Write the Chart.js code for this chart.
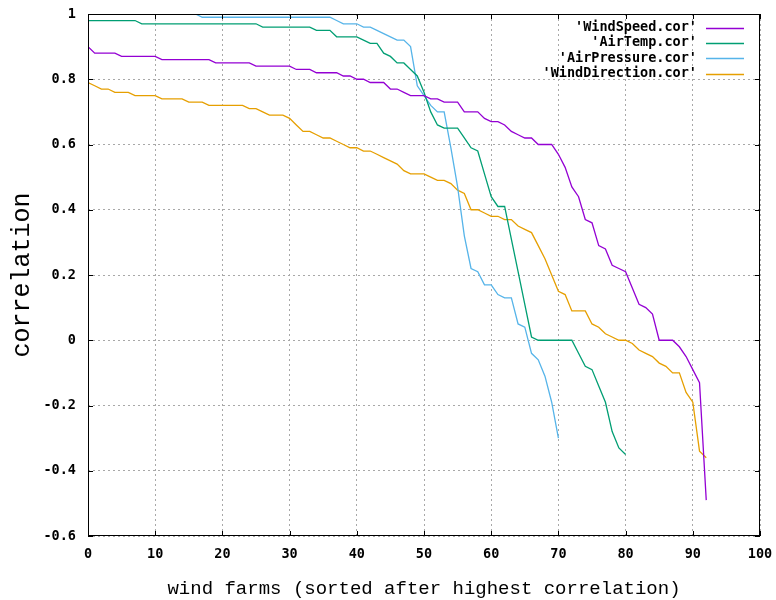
<!DOCTYPE html>
<html>
<head>
<meta charset="utf-8">
<script src="https://cdn.jsdelivr.net/npm/chart.js@4/dist/chart.umd.min.js"></script>
<style>
  html, body { margin: 0; padding: 0; background: #ffffff; }
  canvas { display: block; }
</style>
</head>
<body>
<canvas id="kt_chart" width="776" height="600"></canvas>
<script>
// Series values, one per wind farm (index 0, 1, 2, ...)
var windSpeed = [0.90, 0.88, 0.88, 0.88, 0.88, 0.87, 0.87, 0.87, 0.87, 0.87,
  0.87, 0.86, 0.86, 0.86, 0.86, 0.86, 0.86, 0.86, 0.86, 0.85,
  0.85, 0.85, 0.85, 0.85, 0.85, 0.84, 0.84, 0.84, 0.84, 0.84,
  0.84, 0.83, 0.83, 0.83, 0.82, 0.82, 0.82, 0.82, 0.81, 0.81,
  0.80, 0.80, 0.79, 0.79, 0.79, 0.77, 0.77, 0.76, 0.75, 0.75,
  0.75, 0.74, 0.74, 0.73, 0.73, 0.73, 0.70, 0.70, 0.70, 0.68,
  0.67, 0.67, 0.66, 0.64, 0.63, 0.62, 0.62, 0.60, 0.60, 0.60,
  0.57, 0.53, 0.47, 0.44, 0.37, 0.36, 0.29, 0.28, 0.23, 0.22,
  0.21, 0.16, 0.11, 0.10, 0.08, 0.00, 0.00, 0.00, -0.02, -0.05,
  -0.09, -0.13, -0.49];

var airTemp = [0.98, 0.98, 0.98, 0.98, 0.98, 0.98, 0.98, 0.98, 0.97, 0.97,
  0.97, 0.97, 0.97, 0.97, 0.97, 0.97, 0.97, 0.97, 0.97, 0.97,
  0.97, 0.97, 0.97, 0.97, 0.97, 0.97, 0.96, 0.96, 0.96, 0.96,
  0.96, 0.96, 0.96, 0.96, 0.95, 0.95, 0.95, 0.93, 0.93, 0.93,
  0.93, 0.92, 0.91, 0.91, 0.88, 0.87, 0.85, 0.85, 0.83, 0.81,
  0.76, 0.70, 0.66, 0.65, 0.65, 0.65, 0.62, 0.59, 0.58, 0.51,
  0.44, 0.41, 0.41, 0.31, 0.21, 0.11, 0.01, 0.00, 0.00, 0.00,
  0.00, 0.00, 0.00, -0.04, -0.08, -0.09, -0.14, -0.19, -0.28, -0.33,
  -0.35];

var airPressure = [1.00, 1.00, 1.00, 1.00, 1.00, 1.00, 1.00, 1.00, 1.00, 1.00,
  1.00, 1.00, 1.00, 1.00, 1.00, 1.00, 1.00, 0.99, 0.99, 0.99,
  0.99, 0.99, 0.99, 0.99, 0.99, 0.99, 0.99, 0.99, 0.99, 0.99,
  0.99, 0.99, 0.99, 0.99, 0.99, 0.99, 0.99, 0.98, 0.97, 0.97,
  0.97, 0.96, 0.96, 0.95, 0.94, 0.93, 0.92, 0.92, 0.90, 0.78,
  0.75, 0.72, 0.70, 0.70, 0.59, 0.47, 0.32, 0.22, 0.21, 0.17,
  0.17, 0.14, 0.13, 0.13, 0.05, 0.04, -0.04, -0.06, -0.11, -0.19,
  -0.30];

var windDirection = [0.79, 0.78, 0.77, 0.77, 0.76, 0.76, 0.76, 0.75, 0.75, 0.75,
  0.75, 0.74, 0.74, 0.74, 0.74, 0.73, 0.73, 0.73, 0.72, 0.72,
  0.72, 0.72, 0.72, 0.72, 0.71, 0.71, 0.70, 0.69, 0.69, 0.69,
  0.68, 0.66, 0.64, 0.64, 0.63, 0.62, 0.62, 0.61, 0.60, 0.59,
  0.59, 0.58, 0.58, 0.57, 0.56, 0.55, 0.54, 0.52, 0.51, 0.51,
  0.51, 0.50, 0.49, 0.49, 0.48, 0.46, 0.45, 0.40, 0.40, 0.39,
  0.38, 0.38, 0.37, 0.37, 0.35, 0.34, 0.33, 0.29, 0.25, 0.20,
  0.15, 0.14, 0.09, 0.09, 0.09, 0.05, 0.04, 0.02, 0.01, 0.00,
  0.00, -0.01, -0.03, -0.04, -0.05, -0.07, -0.08, -0.10, -0.10, -0.16,
  -0.19, -0.34, -0.36];

// Series names as shown in the key
var seriesNames = ["'WindSpeed.cor'", "'AirTemp.cor'", "'AirPressure.cor'", "'WindDirection.cor'"];

// Tick labels
var xTickValues = [0, 10, 20, 30, 40, 50, 60, 70, 80, 90, 100];
var yTickValues = [-0.6, -0.4, -0.2, 0, 0.2, 0.4, 0.6, 0.8, 1];
var yTickLabels = ['-0.6', '-0.4', '-0.2', '0', '0.2', '0.4', '0.6', '0.8', '1'];

// Axis titles
var xTitle = 'wind farms (sorted after highest correlation)';
var yTitle = 'correlation';

var KTCorrelationChart = function () {
  // Define colors (gnuplot defaults)
  var purpleColor = '#9400d3';
  var greenColor = '#009e73';
  var blueColor = '#56b4e9';
  var orangeColor = '#e69f00';
  var gridColor = '#a8a8a8';

  // Define fonts
  var tickFont = { family: "'DejaVu Sans Mono', monospace", size: 13.5, weight: 'bold' };
  var titleFont = { family: "'Liberation Mono', 'DejaVu Sans Mono', monospace", weight: 'normal' };

  function toPoints(values) {
    return values.map(function (v, i) { return { x: i, y: v }; });
  }

  function makeDataset(label, values, color) {
    return {
      label: label,
      data: toPoints(values),
      borderColor: color,
      backgroundColor: color,
      borderWidth: 1.3,
      pointRadius: 0,
      tension: 0,
      fill: false
    };
  }

  // Frame, mirrored inward ticks and the key, drawn like gnuplot does
  var framePlugin = {
    id: 'frame',
    afterDraw: function (chart) {
      var ctx = chart.ctx;
      var area = chart.chartArea;
      var xScale = chart.scales.x;
      var yScale = chart.scales.y;
      var tickLen = 5;

      ctx.save();
      ctx.strokeStyle = '#000000';
      ctx.lineWidth = 1;
      ctx.strokeRect(area.left + 0.5, area.top + 0.5, area.right - area.left - 1, area.bottom - area.top - 1);

      ctx.beginPath();
      xTickValues.forEach(function (v) {
        var px = Math.round(xScale.getPixelForValue(v)) + 0.5;
        ctx.moveTo(px, area.bottom);
        ctx.lineTo(px, area.bottom - tickLen);
        ctx.moveTo(px, area.top);
        ctx.lineTo(px, area.top + tickLen);
      });
      yTickValues.forEach(function (v) {
        var py = Math.round(yScale.getPixelForValue(v)) + 0.5;
        ctx.moveTo(area.left, py);
        ctx.lineTo(area.left + tickLen, py);
        ctx.moveTo(area.right, py);
        ctx.lineTo(area.right - tickLen, py);
      });
      ctx.stroke();

      // Key in the top right corner
      var textRight = area.right - 63;
      var lineStart = area.right - 54;
      var lineEnd = area.right - 16;
      var rowTop = area.top + 13.5;
      var rowStep = 15.4;
      ctx.font = 'bold 13.5px "DejaVu Sans Mono", monospace';
      ctx.textAlign = 'right';
      ctx.textBaseline = 'middle';
      chart.data.datasets.forEach(function (ds, i) {
        var y = rowTop + i * rowStep;
        ctx.fillStyle = '#000000';
        ctx.fillText(ds.label, textRight, y);
        ctx.beginPath();
        ctx.strokeStyle = ds.borderColor;
        ctx.lineWidth = 1.3;
        ctx.moveTo(lineStart, Math.round(y) + 0.5);
        ctx.lineTo(lineEnd, Math.round(y) + 0.5);
        ctx.stroke();
      });
      ctx.restore();
    }
  };

  var init = function () {
    // Define chart element
    var ctx = document.getElementById('kt_chart');

    // Chart data
    var data = {
      datasets: [
        makeDataset(seriesNames[0], windSpeed, purpleColor),
        makeDataset(seriesNames[1], airTemp, greenColor),
        makeDataset(seriesNames[2], airPressure, blueColor),
        makeDataset(seriesNames[3], windDirection, orangeColor)
      ]
    };

    // Chart config
    var config = {
      type: 'line',
      data: data,
      options: {
        responsive: false,
        animation: false,
        devicePixelRatio: 1,
        layout: {
          padding: { top: 14, right: 16, left: 0, bottom: 0 }
        },
        plugins: {
          legend: { display: false },
          title: { display: false },
          tooltip: { enabled: false }
        },
        scales: {
          x: {
            type: 'linear',
            min: 0,
            max: 100,
            afterBuildTicks: function (scale) {
              scale.ticks = xTickValues.map(function (v) { return { value: v }; });
            },
            afterFit: function (scale) {
              // fixed plot box: no extra room for overhanging labels
              scale.height = 64;
              scale.paddingLeft = 0;
              scale.paddingRight = 0;
            },
            ticks: {
              color: '#000000',
              font: tickFont,
              padding: 10,
              maxRotation: 0,
              autoSkip: false
            },
            grid: {
              color: gridColor,
              lineWidth: 1,
              drawTicks: false
            },
            border: { display: false, dash: [2, 3] },
            title: {
              display: true,
              text: xTitle,
              color: '#000000',
              font: Object.assign({ size: 19 }, titleFont),
              padding: { top: 0, bottom: 0 }
            }
          },
          y: {
            type: 'linear',
            min: -0.6,
            max: 1,
            afterBuildTicks: function (scale) {
              scale.ticks = yTickValues.map(function (v) { return { value: v }; });
            },
            afterFit: function (scale) {
              scale.width = 88;
              scale.paddingTop = 0;
              scale.paddingBottom = 0;
            },
            ticks: {
              color: '#000000',
              font: tickFont,
              padding: 12,
              autoSkip: false,
              callback: function (value, index) {
                return yTickLabels[index];
              }
            },
            grid: {
              color: gridColor,
              lineWidth: 1,
              drawTicks: false
            },
            border: { display: false, dash: [2, 3] },
            title: {
              display: true,
              text: yTitle,
              color: '#000000',
              font: Object.assign({ size: 25 }, titleFont),
              padding: { top: 7, bottom: 0 }
            }
          }
        }
      },
      plugins: [framePlugin]
    };

    // Init ChartJS
    var myChart = new Chart(ctx, config);
  };

  return {
    init: init
  };
}();

document.addEventListener('DOMContentLoaded', function () {
  KTCorrelationChart.init();
});
</script>
</body>
</html>
